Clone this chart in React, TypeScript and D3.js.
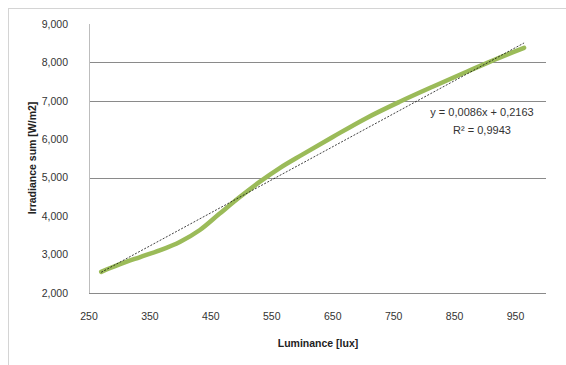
import React, { useEffect } from 'react'
import * as d3 from 'd3'

/* chart size matches the screenshot */
const width = 566
const height = 365
const margin = { top: 24, right: 19, bottom: 72, left: 89 }

const luminance = [270, 285, 301, 333, 366, 399, 432, 464, 497, 530, 563, 600, 650, 705, 759, 813, 869, 923, 945, 964]
const irradiance = [2.55, 2.65, 2.75, 2.93, 3.11, 3.33, 3.64, 4.06, 4.49, 4.89, 5.25, 5.6, 6.06, 6.55, 6.97, 7.36, 7.75, 8.12, 8.26, 8.38]

/* linear trendline coefficients as printed on the chart */
const slope = 0.0086
const intercept = 0.2163
const trendLabel = ['y = 0,0086x + 0,2163', 'R² = 0,9943']

/* axis ticks */
const xTicks = [250, 350, 450, 550, 650, 750, 850, 950]
const yTicks = [2, 3, 4, 5, 6, 7, 8, 9]
/* only these gridlines survive in the picture */
const gridValues = [5, 7, 8]

const xScale = d3
    .scaleLinear()
    .domain([250, 1000])
    .range([margin.left, width - margin.right - 1])
const yScale = d3
    .scaleLinear()
    .domain([2, 9])
    .range([height - margin.bottom, margin.top])

/* 2 -> "2,000" (decimal comma) */
const fmtY = (d: number) => d.toFixed(3).replace('.', ',')

const font = '"Liberation Sans", Arial, sans-serif'

export default function App() {
    useEffect(() => {
        document.body.style.margin = '0'
        document.body.style.overflow = 'hidden'
    }, [])

    const points = luminance.map((x, i) => ({ x, y: irradiance[i] }))
    const line = d3
        .line<{ x: number; y: number }>()
        .x((d) => xScale(d.x))
        .y((d) => yScale(d.y))

    const xMin = d3.min(luminance) as number
    const xMax = d3.max(luminance) as number
    const trend = [xMin, xMax].map((x) => ({ x, y: slope * x + intercept }))

    const x0 = xScale.range()[0]
    const x1 = xScale.range()[1]
    const yBottom = yScale(2)

    return (
        <svg width={width} height={height} style={{ display: 'block', background: '#fff' }}>
            {/* chart border */}
            <rect x={8.5} y={8.5} width={width} height={height} fill="none" stroke="#d4d4d4" />

            {/* gridlines */}
            {gridValues.map((v) => (
                <line key={v} x1={x0} x2={x1} y1={Math.round(yScale(v)) + 0.5} y2={Math.round(yScale(v)) + 0.5} stroke="#8a8a8a" />
            ))}

            {/* axes */}
            <line x1={x0 + 0.5} x2={x0 + 0.5} y1={yScale(9)} y2={yBottom} stroke="#bdbdbd" />
            <line x1={x0} x2={x1} y1={Math.round(yBottom) + 0.5} y2={Math.round(yBottom) + 0.5} stroke="#8a8a8a" />

            {/* y tick labels */}
            {yTicks.map((v) => (
                <text key={v} x={x0 - 21} y={yScale(v)} dy="0.35em" textAnchor="end" fontSize="10.5px" fontFamily={font} fill="#333">
                    {fmtY(v)}
                </text>
            ))}
            {/* x tick labels */}
            {xTicks.map((v) => (
                <text key={v} x={xScale(v)} y={yBottom + 23} dy="0.35em" textAnchor="middle" fontSize="10.5px" fontFamily={font} fill="#333">
                    {v}
                </text>
            ))}

            {/* axis titles */}
            <text x={318} y={343} dy="0.35em" textAnchor="middle" fontSize="10.5px" fontWeight="bold" fontFamily={font} fill="#222">
                Luminance [lux]
            </text>
            <text transform="translate(32,158) rotate(-90)" dy="0.35em" textAnchor="middle" fontSize="10.5px" fontWeight="bold" fontFamily={font} fill="#222">
                Irradiance sum [W/m2]
            </text>

            {/* measured curve */}
            <path d={line.curve(d3.curveMonotoneX)(points) as string} fill="none" stroke="#9bbb59" strokeWidth={4.5} strokeLinecap="round" strokeLinejoin="round" />

            {/* linear trendline */}
            <path d={line.curve(d3.curveLinear)(trend) as string} fill="none" stroke="#111" strokeWidth={0.8} strokeDasharray="2,1.5" />

            {/* trendline equation */}
            {trendLabel.map((t, i) => (
                <text key={i} x={482} y={112 + i * 18} dy="0.35em" textAnchor="middle" fontSize="11px" fontFamily={font} fill="#333">
                    {t}
                </text>
            ))}
        </svg>
    )
}
